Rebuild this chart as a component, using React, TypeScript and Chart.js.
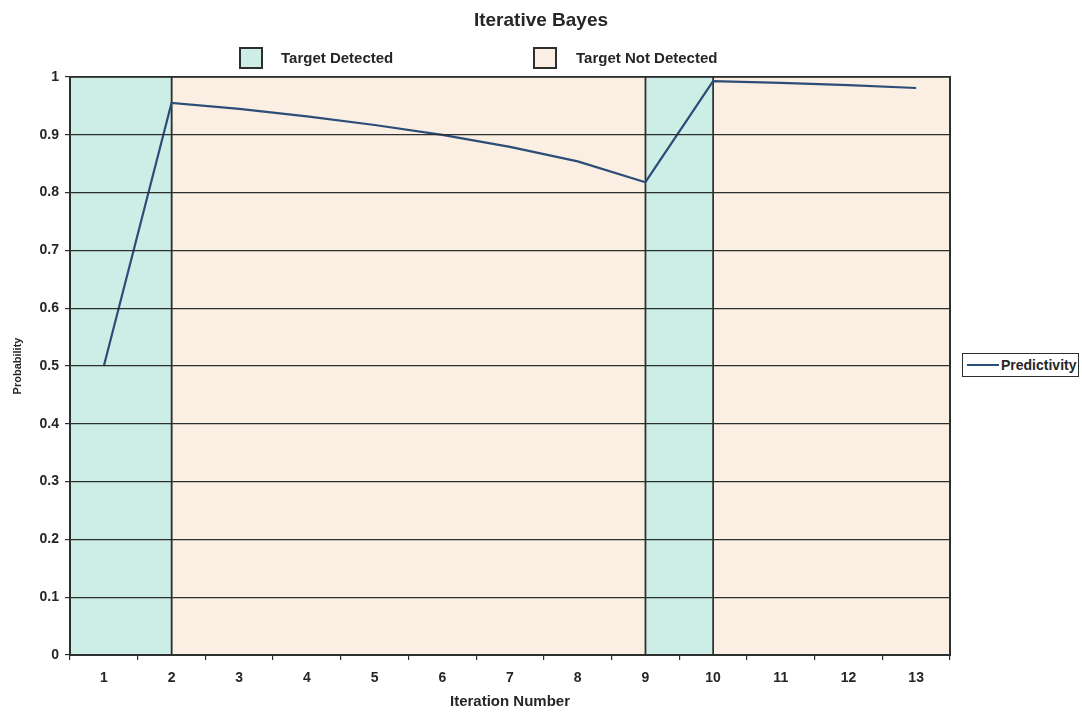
import React, { useEffect, useRef } from 'react';
import { Chart, registerables } from 'chart.js';

Chart.register(...registerables);

// ---- data ----
const chartTitle = 'Iterative Bayes';
const xTitle = 'Iteration Number';
const yTitle = 'Probability';
const iterations = ['1', '2', '3', '4', '5', '6', '7', '8', '9', '10', '11', '12', '13'];
const predictivity = [0.5, 0.955, 0.945, 0.932, 0.917, 0.9, 0.879, 0.854, 0.818, 0.993, 0.99, 0.986, 0.981];
const seriesName = 'Predictivity';
const bandNames = ['Target Detected', 'Target Not Detected'];
// iteration numbers where the detection state changes
const bandBoundaries = [2, 9, 10];
// state of each band (true = detected), left to right
const bandDetected = [true, false, true, false];
const yMin = 0;
const yMax = 1;
const yStep = 0.1;

// ---- styles ----
const FONT = "'Liberation Sans', Arial, Helvetica, sans-serif";
const TEAL = '#cdeee6';
const PEACH = '#fbefe3';
const DARK = '#2b2f2d';
const LINE = '#2c4d78';
const TEXT = '#262626';

export default function App() {
  const canvasRef = useRef<HTMLCanvasElement | null>(null);

  useEffect(() => {
    if (!canvasRef.current) return;
    const xMinL = 0.5;
    const xMaxL = iterations.length + 0.5;

    const bandSets = bandDetected.map((det, i) => {
      const x0 = i === 0 ? xMinL : bandBoundaries[i - 1];
      const x1 = i === bandDetected.length - 1 ? xMaxL : bandBoundaries[i];
      return {
        type: 'line' as const,
        label: det ? bandNames[0] : bandNames[1],
        xAxisID: 'xl',
        yAxisID: 'y',
        data: [
          { x: x0, y: yMin },
          { x: x0, y: yMax },
          { x: x1, y: yMax },
          { x: x1, y: yMin },
        ],
        borderColor: DARK,
        borderWidth: 1.6,
        backgroundColor: det ? TEAL : PEACH,
        fill: 'origin',
        pointRadius: 0,
        tension: 0,
        order: 2,
      };
    });

    const chart = new Chart(canvasRef.current, {
      type: 'line',
      data: {
        labels: iterations,
        datasets: [
          {
            label: seriesName,
            data: predictivity,
            xAxisID: 'x',
            yAxisID: 'y',
            borderColor: LINE,
            borderWidth: 2.2,
            pointRadius: 0,
            tension: 0,
            fill: false,
            order: 0,
          } as any,
          ...bandSets,
        ],
      },
      options: {
        animation: false,
        responsive: false,
        events: [],
        layout: { padding: 0 },
        plugins: {
          legend: { display: false },
          tooltip: { enabled: false },
          title: {
            display: true,
            text: chartTitle,
            color: TEXT,
            font: { family: FONT, size: 19, weight: 'bold' },
            padding: { top: 9, bottom: 45.2 },
          },
        },
        scales: {
          x: {
            type: 'category',
            offset: true,
            grid: {
              display: true,
              offset: true,
              drawOnChartArea: false,
              drawTicks: true,
              tickLength: 5,
              color: DARK,
              lineWidth: 1.2,
              z: 1,
            },
            border: { display: true, color: DARK, width: 2, z: 2 },
            ticks: {
              color: TEXT,
              font: { family: FONT, size: 14, weight: 'bold' },
              padding: 10,
              maxRotation: 0,
              autoSkip: false,
            },
            title: {
              display: true,
              text: xTitle,
              color: TEXT,
              font: { family: FONT, size: 15, weight: 'bold' },
              padding: { top: 0, bottom: 6 },
            },
            afterFit: (s: any) => {
              s.height = 62;
            },
          },
          xl: {
            type: 'linear',
            display: false,
            min: xMinL,
            max: xMaxL,
          },
          y: {
            type: 'linear',
            position: 'left',
            min: yMin,
            max: yMax,
            grid: {
              color: DARK,
              lineWidth: 1.2,
              drawTicks: true,
              tickLength: 5,
              z: 1,
            },
            border: { display: true, color: DARK, width: 2, z: 2 },
            ticks: {
              stepSize: yStep,
              color: TEXT,
              font: { family: FONT, size: 14, weight: 'bold' },
              padding: 6,
              callback: (v: any) => String(Math.round(Number(v) * 10) / 10),
            },
            title: {
              display: true,
              text: yTitle,
              color: TEXT,
              font: { family: FONT, size: 11, weight: 'bold' },
              padding: { top: 11, bottom: 0 },
            },
            afterFit: (s: any) => {
              s.width = 70;
            },
          },
          y2: {
            type: 'linear',
            position: 'right',
            min: yMin,
            max: yMax,
            grid: { display: false, drawTicks: false },
            ticks: { display: false },
            border: { display: true, color: DARK, width: 2, z: 2 },
            afterFit: (s: any) => {
              s.width = 132;
            },
          },
        },
      } as any,
    });
    return () => chart.destroy();
  }, []);

  const textStyle: React.CSSProperties = {
    position: 'absolute',
    fontFamily: FONT,
    fontWeight: 'bold',
    color: TEXT,
    whiteSpace: 'nowrap',
  };

  return (
    <div style={{ position: 'absolute', left: 0, top: 0, width: 1082, height: 717, background: '#fff' }}>
      <canvas ref={canvasRef} width={1082} height={717} style={{ position: 'absolute', left: 0, top: 0, width: 1082, height: 717 }} />
      {/* top legend */}
      <div style={{ position: 'absolute', left: 239, top: 47, width: 24, height: 22, boxSizing: 'border-box', border: `2px solid ${DARK}`, background: TEAL }} />
      <div style={{ ...textStyle, left: 281, top: 49, fontSize: 15, lineHeight: '18px' }}>{bandNames[0]}</div>
      <div style={{ position: 'absolute', left: 533, top: 47, width: 24, height: 22, boxSizing: 'border-box', border: `2px solid ${DARK}`, background: PEACH }} />
      <div style={{ ...textStyle, left: 576, top: 49, fontSize: 15, lineHeight: '18px' }}>{bandNames[1]}</div>
      {/* right legend */}
      <div style={{ position: 'absolute', left: 962, top: 353, width: 117, height: 24, boxSizing: 'border-box', border: `1.5px solid ${DARK}`, background: '#fff' }}>
        <div style={{ position: 'absolute', left: 4, top: 10, width: 32, height: 2, background: LINE }} />
        <div style={{ ...textStyle, left: 38, top: 2, fontSize: 14, lineHeight: '18px' }}>{seriesName}</div>
      </div>
    </div>
  );
}
